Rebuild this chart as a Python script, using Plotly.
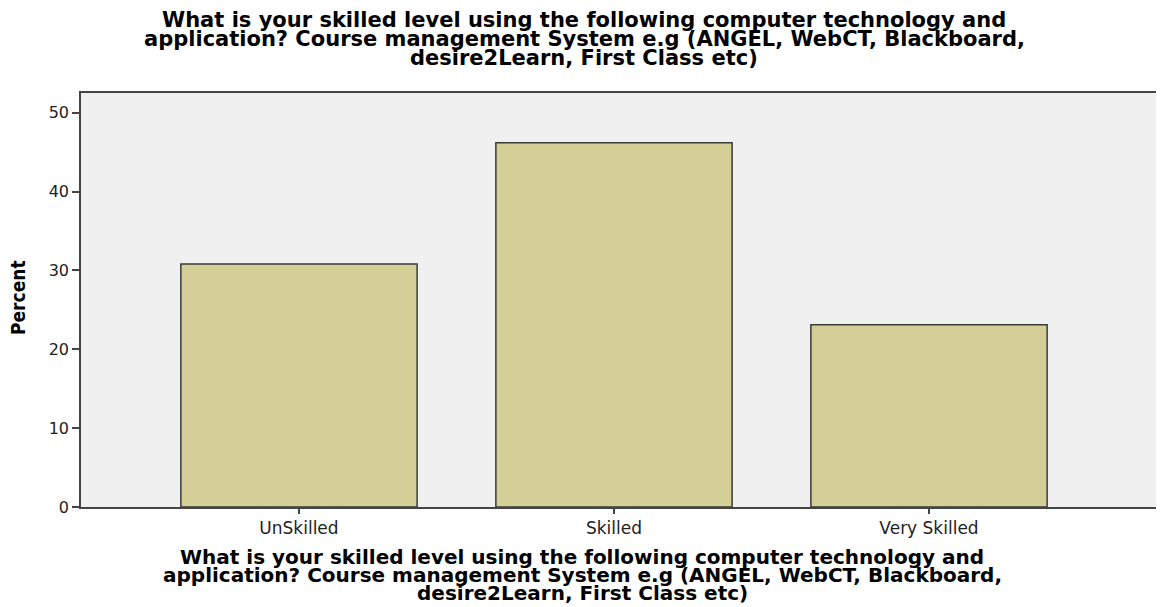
import plotly.graph_objects as go

categories = ["UnSkilled", "Skilled", "Very Skilled"]
percent = [30.8, 46.2, 23.1]
y_ticks = [0, 10, 20, 30, 40, 50]

title_lines = [
    "What is your skilled level using the following computer technology and",
    "application? Course management System e.g (ANGEL, WebCT, Blackboard,",
    "desire2Learn, First Class etc)",
]

# the page body adds an 8px offset, so the figure is laid out in screen pixels minus 8
OFF = 8
W, H = 1164 - OFF, 607 - OFF
ML, MT = 81 - OFF, 93 - OFF
MR = 0
MB = 607 - 507
PH = H - MT - MB
PW = W - ML - MR


def py(pix):  # screen pixel -> paper y
    return (H - MB - (pix - OFF)) / PH


def px(pix):  # screen pixel -> paper x
    return ((pix - OFF) - ML) / PW


fig = go.Figure()
fig.add_trace(go.Bar(
    x=categories, y=percent,
    marker=dict(color="#D3CF97", line=dict(color="#3a3a3a", width=1.5)),
    width=0.75,
    hoverinfo="x+y",
))

fig.update_layout(
    width=W, height=H,
    margin=dict(l=ML, r=MR, t=MT, b=MB),
    paper_bgcolor="white",
    plot_bgcolor="#F0F0F0",
    showlegend=False,
    font=dict(family="DejaVu Sans, sans-serif", color="black"),
)
fig.update_xaxes(
    range=[-0.692, 2.746], automargin=False,
    showline=True, linecolor="#444444", linewidth=1.5, mirror=True,
    ticks="outside", ticklen=5, tickcolor="#444444", tickwidth=1.5,
    tickfont=dict(size=17, color="#222222", family="DejaVu Sans, sans-serif"),
    showgrid=False,
)
fig.update_yaxes(
    range=[0, 52.5], automargin=False,
    tickvals=y_ticks,
    showline=True, linecolor="#444444", linewidth=1.5, mirror=True,
    ticks="outside", ticklen=7, tickcolor="#444444", tickwidth=1.5,
    tickfont=dict(size=16, color="#222222", family="DejaVu Sans, sans-serif"),
    showgrid=False, zeroline=False,
)

fig.add_annotation(
    text="<b>Percent</b>", textangle=-90,
    xref="paper", yref="paper", x=px(18), y=py(298),
    xanchor="center", yanchor="middle", showarrow=False,
    font=dict(size=19, family="DejaVu Sans Condensed, DejaVu Sans, sans-serif"),
)

top_centers = [19.5, 38.5, 57.5]
bottom_centers = [557, 575, 593]
for line, yt, yb in zip(title_lines, top_centers, bottom_centers):
    fig.add_annotation(
        text="<b>" + line + "</b>",
        xref="paper", yref="paper", x=px(584), y=py(yt),
        xanchor="center", yanchor="middle", showarrow=False,
        font=dict(size=21, family="DejaVu Sans, sans-serif"),
    )
    fig.add_annotation(
        text="<b>" + line + "</b>",
        xref="paper", yref="paper", x=px(582), y=py(yb),
        xanchor="center", yanchor="middle", showarrow=False,
        font=dict(size=20, family="DejaVu Sans, sans-serif"),
    )

fig.write_html("out.html")
